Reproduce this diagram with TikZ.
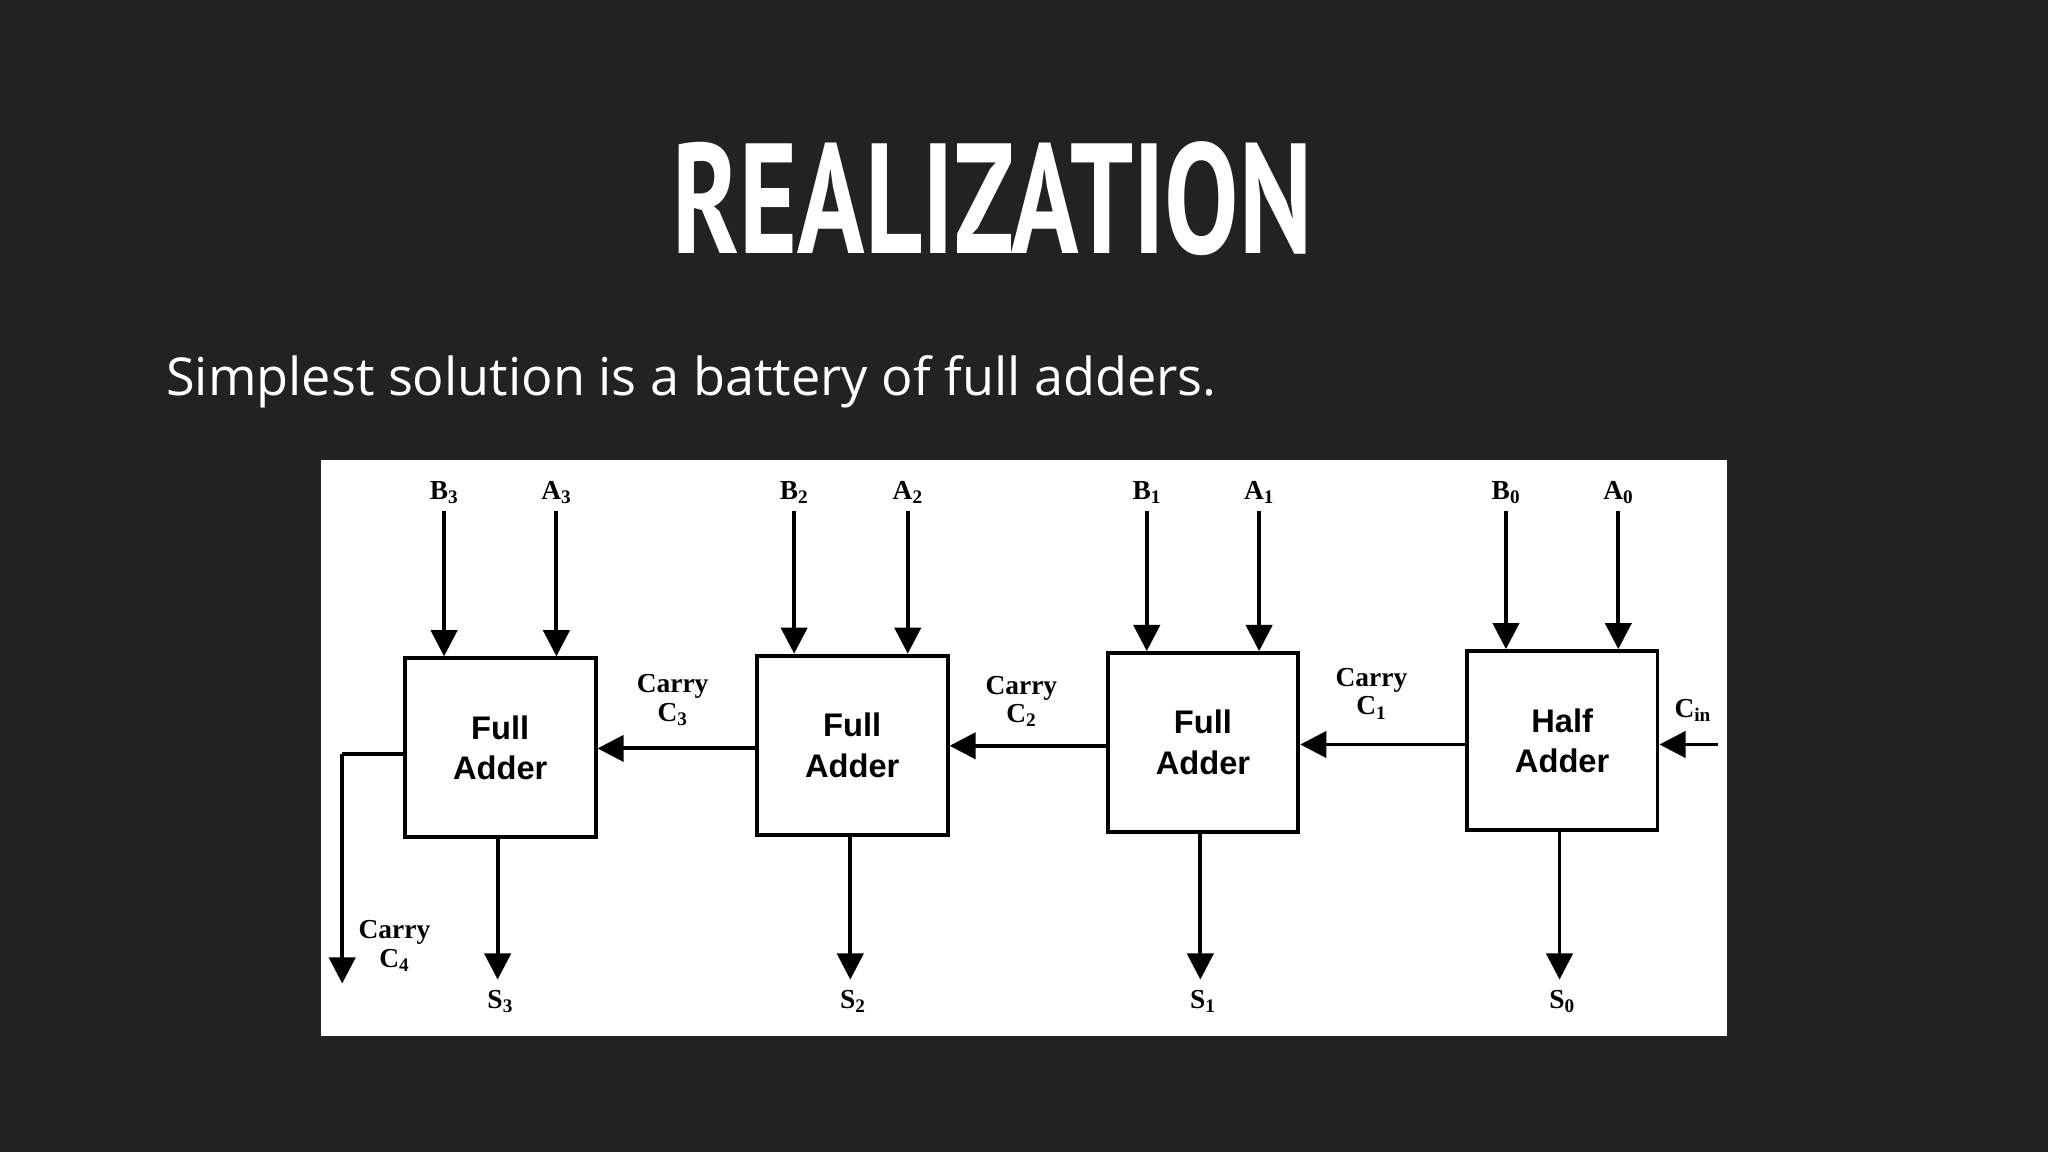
\documentclass[tikz,border=0pt]{standalone}
\usepackage{fontspec}
\setmainfont{Liberation Serif}
\newfontfamily\bodyf{Open Sans}
\newfontfamily\titlef{PT Sans}
\newfontfamily\boxf{Liberation Sans}
\usetikzlibrary{arrows.meta}
\definecolor{bg}{HTML}{222222}
\begin{document}
\begin{tikzpicture}[x=1pt,y=-1pt,
  blk/.style={draw=black,line width=3pt,minimum width=146pt,minimum height=137pt,inner sep=0pt,align=center,font=\boxf\bfseries\fontsize{25}{31}\selectfont},
  lbl/.style={font=\bfseries\fontsize{21}{22}\selectfont,inner sep=1pt,align=center},
  arr/.style={line width=3pt,-{Triangle[length=20pt,width=20pt]}}]
\fill[bg] (0,0) rectangle (1568,882);
\useasboundingbox (0,0) rectangle (1568,882);
\node[white,font=\titlef\bfseries\fontsize{120}{120}\selectfont] (title) at (760,152) {\scalebox{0.71}[1]{REALIZATION}};
\node[white,anchor=base west,inner sep=0pt,font=\bodyf\fontsize{40}{42}\selectfont] (sub) at (127,303) {Simplest solution is a battery of full adders.};
\fill[white] (246,352) rectangle (1322,793);
\node[blk] (fa3) at (383,572.5) {Full\\Adder};
\node[blk] (fa2) at (652.5,570.5) {Full\\Adder};
\node[blk] (fa1) at (921,568.5) {Full\\Adder};
\node[blk] (ha) at (1196,567) {Half\\Adder};
% inputs
\foreach \n/\x/\b/\lb/\ly in {b3/340/fa3/B/3,a3/426/fa3/A/3,b2/608/fa2/B/2,a2/695/fa2/A/2,b1/878/fa1/B/1,a1/964/fa1/A/1,b0/1153/ha/B/0,a0/1239/ha/A/0}{
  \node[lbl] (l\n) at (\x,377) {\lb\textsubscript{\ly}};
  \coordinate (s\n) at (\x,391);
  \draw[arr] (s\n) -- (s\n |- \b.north);
}
% carries
\draw[arr] (fa2.west |- 0,573) -- (fa3.east |- 0,573);
\draw[arr] (fa1.west |- 0,571) -- (fa2.east |- 0,571);
\draw[arr] (ha.west |- 0,570) -- (fa1.east |- 0,570);
\node[lbl] (c3) at (515,536) {Carry\\C\textsubscript{3}};
\node[lbl] (c2) at (782,537) {Carry\\C\textsubscript{2}};
\node[lbl] (c1) at (1050,531) {Carry\\C\textsubscript{1}};
\coordinate (cin) at (1315,570);
\draw[arr] (cin) -- (ha.east |- cin);
\node[lbl] (lcin) at (1296,544) {C\textsubscript{in}};
% outputs
\foreach \b/\n/\x in {fa3/3/381,fa2/2/651,fa1/1/919,ha/0/1194}{
  \coordinate (o\n) at (\x,750);
  \draw[arr] (\b.south -| o\n) -- (o\n);
  \node[lbl] (ls\n) at (\x+2,767) {S\textsubscript{\n}};
}
\coordinate (c4a) at (262,577);
\coordinate (c4b) at (262,753);
\draw[line width=3pt] (fa3.west |- c4a) -- (c4a);
\draw[arr] (c4a) -- (c4b);
\node[lbl] (c4) at (302,724) {Carry\\C\textsubscript{4}};
\end{tikzpicture}
\end{document}
